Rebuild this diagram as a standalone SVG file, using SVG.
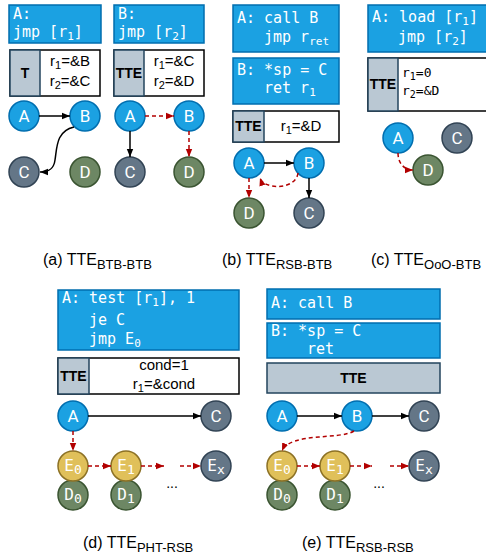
<svg xmlns="http://www.w3.org/2000/svg" width="486" height="556" viewBox="0 0 486 556">
  <style>
    .code-box { fill: #1ba1e2; stroke: #006eaf; stroke-width: 1.5; }
    .code { fill: #ffffff; font-family: "DejaVu Sans Mono", "Liberation Mono", monospace; font-size: 15px; }
    .tag { fill: #bac8d3; stroke: #23445d; stroke-width: 1.5; }
    .cell { fill: #ffffff; stroke: #000000; stroke-width: 1.5; }
    .tag-txt { font-family: "Liberation Sans", Arial, sans-serif; font-weight: bold; font-size: 14px; fill: #000; text-anchor: middle; }
    .val { font-family: "Liberation Sans", Arial, sans-serif; font-size: 15px; fill: #000; text-anchor: middle; }
    .val-mono { font-family: "DejaVu Sans Mono", "Liberation Mono", monospace; font-size: 13px; fill: #000; }
    .blue { fill: #1ba1e2; stroke: #006eaf; stroke-width: 1.5; }
    .slate { fill: #647687; stroke: #314354; stroke-width: 1.5; }
    .green { fill: #6d8764; stroke: #3a5431; stroke-width: 1.5; }
    .yellow { fill: #e0c05a; stroke: #8c7125; stroke-width: 1.5; }
    .lbl { font-family: Roboto, "Liberation Sans", sans-serif; font-size: 17px; fill: #ffffff; text-anchor: middle; }
    .lbl-mono { font-family: "DejaVu Sans Mono", "Liberation Mono", monospace; font-size: 16px; fill: #ffffff; text-anchor: middle; }
    .solid { fill: none; stroke: #000; stroke-width: 1.5; marker-end: url(#arrow-k); }
    .spec { fill: none; stroke: #b20000; stroke-width: 1.5; stroke-dasharray: 4 3; marker-end: url(#arrow-r); }
    .caption { font-family: "Liberation Sans", Arial, sans-serif; font-size: 16px; fill: #000; }
    .dots { font-family: "Liberation Sans", Arial, sans-serif; font-size: 14px; fill: #000; text-anchor: middle; }
  </style>
  <defs>
    <marker id="arrow-k" viewBox="0 0 10 10" refX="10" refY="5" markerWidth="8" markerHeight="8" markerUnits="userSpaceOnUse" orient="auto">
      <path d="M0,1 L10,5 L0,9 z" fill="#000"/>
    </marker>
    <marker id="arrow-r" viewBox="0 0 10 10" refX="10" refY="5" markerWidth="8" markerHeight="8" markerUnits="userSpaceOnUse" orient="auto">
      <path d="M0,1 L10,5 L0,9 z" fill="#b20000"/>
    </marker>
  </defs>

  <!-- (a) left: BTB training -->
  <g id="a-code-A">
    <rect class="code-box" x="9" y="5" width="92" height="38"/>
    <text class="code" x="13" y="19">A:</text>
    <text class="code" x="13" y="37">jmp [r<tspan font-size="11" dy="3">1</tspan><tspan dy="-3">]</tspan></text>
  </g>
  <g id="a-table-T">
    <rect class="cell" x="10" y="50" width="90" height="46"/>
    <rect class="tag" x="10" y="50" width="30" height="46"/>
    <text class="tag-txt" x="25" y="78">T</text>
    <text class="val" x="70" y="66">r<tspan font-size="11" dy="3">1</tspan><tspan dy="-3">=&amp;B</tspan></text>
    <text class="val" x="70" y="86">r<tspan font-size="11" dy="3">2</tspan><tspan dy="-3">=&amp;C</tspan></text>
  </g>
  <g id="a-A"><circle class="blue" cx="24" cy="116" r="15"/><text class="lbl" x="24" y="122">A</text></g>
  <g id="a-B"><circle class="blue" cx="85" cy="116" r="15"/><text class="lbl" x="85" y="122">B</text></g>
  <g id="a-C"><circle class="slate" cx="24" cy="172" r="15"/><text class="lbl" x="24" y="178">C</text></g>
  <g id="a-D"><circle class="green" cx="85" cy="172" r="15"/><text class="lbl" x="85" y="178">D</text></g>

  <!-- (a) right: transient execution -->
  <g id="a2-code-B">
    <rect class="code-box" x="114" y="5" width="90" height="38"/>
    <text class="code" x="118" y="19">B:</text>
    <text class="code" x="118" y="37">jmp [r<tspan font-size="11" dy="3">2</tspan><tspan dy="-3">]</tspan></text>
  </g>
  <g id="a2-table-TTE">
    <rect class="cell" x="114" y="50" width="90" height="46"/>
    <rect class="tag" x="114" y="50" width="30" height="46"/>
    <text class="tag-txt" x="129" y="78">TTE</text>
    <text class="val" x="174" y="66">r<tspan font-size="11" dy="3">1</tspan><tspan dy="-3">=&amp;C</tspan></text>
    <text class="val" x="174" y="86">r<tspan font-size="11" dy="3">2</tspan><tspan dy="-3">=&amp;D</tspan></text>
  </g>
  <g id="a2-A"><circle class="blue" cx="130" cy="116" r="15"/><text class="lbl" x="130" y="122">A</text></g>
  <g id="a2-B"><circle class="blue" cx="189" cy="116" r="15"/><text class="lbl" x="189" y="122">B</text></g>
  <g id="a2-C"><circle class="slate" cx="130" cy="172" r="15"/><text class="lbl" x="130" y="178">C</text></g>
  <g id="a2-D"><circle class="green" cx="189" cy="172" r="15"/><text class="lbl" x="189" y="178">D</text></g>

  <!-- (b) RSB-BTB -->
  <g id="b-code-A">
    <rect class="code-box" x="233" y="5" width="106" height="47"/>
    <text class="code" x="237" y="23">A: call B</text>
    <text class="code" x="264" y="42">jmp r<tspan font-size="11" dy="3">ret</tspan></text>
  </g>
  <g id="b-code-B">
    <rect class="code-box" x="233" y="58" width="106" height="46"/>
    <text class="code" x="237" y="75">B: *sp = C</text>
    <text class="code" x="264" y="93">ret r<tspan font-size="11" dy="3">1</tspan></text>
  </g>
  <g id="b-table-TTE">
    <rect class="cell" x="233" y="111" width="106" height="31"/>
    <rect class="tag" x="233" y="111" width="31" height="31"/>
    <text class="tag-txt" x="248.5" y="131">TTE</text>
    <text class="val" x="301" y="131">r<tspan font-size="11" dy="3">1</tspan><tspan dy="-3">=&amp;D</tspan></text>
  </g>
  <g id="b-A"><circle class="blue" cx="249" cy="163" r="15"/><text class="lbl" x="249" y="169">A</text></g>
  <g id="b-B"><circle class="blue" cx="309" cy="163" r="15"/><text class="lbl" x="309" y="169">B</text></g>
  <g id="b-D"><circle class="green" cx="249" cy="213" r="15"/><text class="lbl" x="249" y="219">D</text></g>
  <g id="b-C"><circle class="slate" cx="309" cy="213" r="15"/><text class="lbl" x="309" y="219">C</text></g>

  <!-- (c) OoO-BTB -->
  <g id="c-code-A">
    <rect class="code-box" x="368" y="5" width="124" height="47"/>
    <text class="code" x="372" y="22">A: load [r<tspan font-size="11" dy="3">1</tspan><tspan dy="-3">]</tspan></text>
    <text class="code" x="398" y="42">jmp  [r<tspan font-size="11" dy="3">2</tspan><tspan dy="-3">]</tspan></text>
  </g>
  <g id="c-table-TTE">
    <rect class="cell" x="368" y="58" width="124" height="53"/>
    <rect class="tag" x="368" y="58" width="30" height="53"/>
    <text class="tag-txt" x="383" y="89">TTE</text>
    <text class="val-mono" x="402" y="77">r<tspan font-size="10" dy="3">1</tspan><tspan dy="-3">=0</tspan></text>
    <text class="val-mono" x="402" y="95">r<tspan font-size="10" dy="3">2</tspan><tspan dy="-3">=&amp;D</tspan></text>
  </g>
  <g id="c-A"><circle class="blue" cx="398" cy="138" r="15"/><text class="lbl" x="398" y="144">A</text></g>
  <g id="c-C"><circle class="slate" cx="457" cy="138" r="15"/><text class="lbl" x="457" y="144">C</text></g>
  <g id="c-D"><circle class="green" cx="428" cy="170" r="15"/><text class="lbl" x="428" y="176">D</text></g>

  <!-- (d) PHT-RSB -->
  <g id="d-code-A">
    <rect class="code-box" x="58" y="290" width="181" height="60"/>
    <text class="code" x="62" y="303">A: test [r<tspan font-size="11" dy="3">1</tspan><tspan dy="-3">], 1</tspan></text>
    <text class="code" x="89" y="325">je C</text>
    <text class="code" x="89" y="344">jmp E<tspan font-size="11" dy="3">0</tspan></text>
  </g>
  <g id="d-table-TTE">
    <rect class="cell" x="58" y="358" width="181" height="36"/>
    <rect class="tag" x="58" y="358" width="31" height="36"/>
    <text class="tag-txt" x="73.5" y="381">TTE</text>
    <text class="val" x="164" y="370">cond=1</text>
    <text class="val" x="164" y="389">r<tspan font-size="11" dy="3">1</tspan><tspan dy="-3">=&amp;cond</tspan></text>
  </g>
  <g id="d-A"><circle class="blue" cx="73" cy="416" r="15"/><text class="lbl" x="73" y="422">A</text></g>
  <g id="d-C"><circle class="slate" cx="216" cy="416" r="15"/><text class="lbl" x="216" y="422">C</text></g>
  <g id="d-D0"><circle class="green" cx="73" cy="495" r="15"/><text class="lbl-mono" x="73" y="500">D<tspan font-size="13" dy="3">0</tspan></text></g>
  <g id="d-D1"><circle class="green" cx="126" cy="495" r="15"/><text class="lbl-mono" x="126" y="500">D<tspan font-size="13" dy="3">1</tspan></text></g>
  <g id="d-E0"><circle class="yellow" cx="73" cy="466" r="15"/><text class="lbl-mono" x="73" y="471">E<tspan font-size="13" dy="3">0</tspan></text></g>
  <g id="d-E1"><circle class="yellow" cx="126" cy="466" r="15"/><text class="lbl-mono" x="126" y="471">E<tspan font-size="13" dy="3">1</tspan></text></g>
  <g id="d-Ex"><circle class="slate" cx="216" cy="466" r="15"/><text class="lbl-mono" x="216" y="471">E<tspan font-size="13" dy="3">x</tspan></text></g>
  <text class="dots" x="172" y="488">...</text>

  <!-- (e) RSB-RSB -->
  <g id="e-code-A">
    <rect class="code-box" x="267" y="289" width="173" height="30"/>
    <text class="code" x="271" y="308">A: call B</text>
  </g>
  <g id="e-code-B">
    <rect class="code-box" x="267" y="323" width="173" height="35"/>
    <text class="code" x="271" y="336">B: *sp = C</text>
    <text class="code" x="307" y="354">ret</text>
  </g>
  <g id="e-table-TTE">
    <rect class="tag" x="267" y="363" width="173" height="30"/>
    <text class="tag-txt" x="353.5" y="383">TTE</text>
  </g>
  <g id="e-A"><circle class="blue" cx="282" cy="416" r="15"/><text class="lbl" x="282" y="422">A</text></g>
  <g id="e-B"><circle class="blue" cx="357" cy="416" r="15"/><text class="lbl" x="357" y="422">B</text></g>
  <g id="e-C"><circle class="slate" cx="424" cy="416" r="15"/><text class="lbl" x="424" y="422">C</text></g>
  <g id="e-D0"><circle class="green" cx="282" cy="495" r="15"/><text class="lbl-mono" x="282" y="500">D<tspan font-size="13" dy="3">0</tspan></text></g>
  <g id="e-D1"><circle class="green" cx="335" cy="495" r="15"/><text class="lbl-mono" x="335" y="500">D<tspan font-size="13" dy="3">1</tspan></text></g>
  <g id="e-E0"><circle class="yellow" cx="282" cy="466" r="15"/><text class="lbl-mono" x="282" y="471">E<tspan font-size="13" dy="3">0</tspan></text></g>
  <g id="e-E1"><circle class="yellow" cx="335" cy="466" r="15"/><text class="lbl-mono" x="335" y="471">E<tspan font-size="13" dy="3">1</tspan></text></g>
  <g id="e-Ex"><circle class="slate" cx="424" cy="466" r="15"/><text class="lbl-mono" x="424" y="471">E<tspan font-size="13" dy="3">x</tspan></text></g>
  <text class="dots" x="379" y="488">...</text>

  <!-- connectors -->
  <g id="connectors">
    <path class="solid" d="M39,116 L70,116"/>
    <path class="solid" d="M74,127 C56,131 57,148 55,160 C54,168 50,172 40,172"/>
    <path class="spec" d="M145,116 L174,116"/>
    <path class="solid" d="M130,131 L130,157"/>
    <path class="spec" d="M189,131 L189,157"/>

    <path class="solid" d="M264,163 L294,163"/>
    <path class="solid" d="M309,178 L309,198"/>
    <path class="spec" d="M249,178 L249,198"/>
    <path class="spec" d="M298,173 C296,190 264,190 260,178"/>

    <path class="spec" d="M398,153 C398,163 404,170 413,170"/>

    <path class="solid" d="M88,416 L201,416"/>
    <path class="spec" d="M73,431 L73,451"/>
    <path class="spec" d="M88,466 L111,466"/>
    <path class="spec" d="M141,466 L164,466"/>
    <path class="spec" d="M180,466 L201,466"/>

    <path class="solid" d="M297,416 L342,416"/>
    <path class="solid" d="M372,416 L409,416"/>
    <path class="spec" d="M354,431 C340,440 290,432 282,451"/>
    <path class="spec" d="M297,466 L320,466"/>
    <path class="spec" d="M350,466 L372,466"/>
    <path class="spec" d="M390,466 L409,466"/>
  </g>

  <!-- captions -->
  <text class="caption" x="43" y="265">(a) TTE<tspan font-size="13" dy="4">BTB-BTB</tspan></text>
  <text class="caption" x="222" y="265">(b) TTE<tspan font-size="13" dy="4">RSB-BTB</tspan></text>
  <text class="caption" x="371" y="265">(c) TTE<tspan font-size="13" dy="4">OoO-BTB</tspan></text>
  <text class="caption" x="83" y="548">(d) TTE<tspan font-size="13" dy="4">PHT-RSB</tspan></text>
  <text class="caption" x="302" y="548">(e) TTE<tspan font-size="13" dy="4">RSB-RSB</tspan></text>
</svg>
